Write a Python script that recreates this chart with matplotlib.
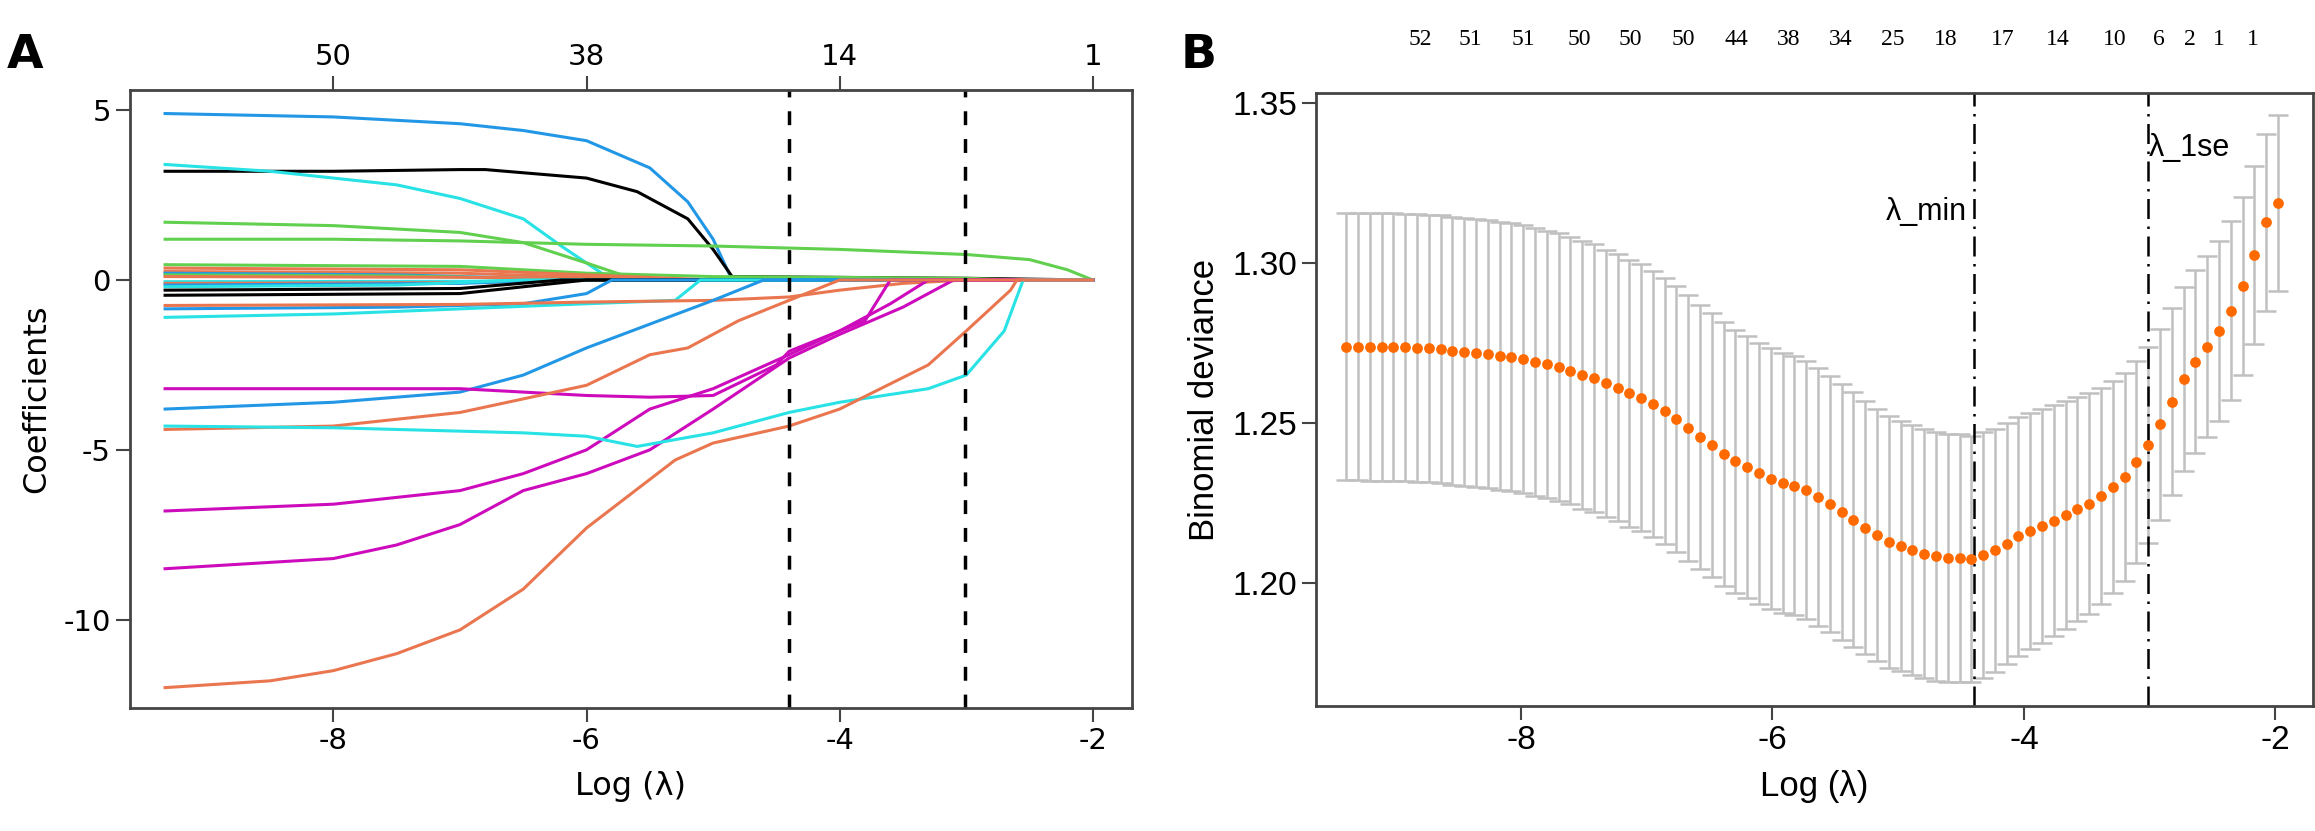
import numpy as np
import matplotlib.pyplot as plt

# colours used by the coefficient paths
BLACK = "#000000"
CORAL = "#EA7650"
GREEN = "#61D04F"
BLUE = "#2297E6"
CYAN = "#28E2E5"
MAGENTA = "#CD0BBC"

LAM_MIN = -4.40
LAM_1SE = -3.01

# ---- panel A: coefficient paths (log lambda knots, coefficient values) ----
paths = [
    (BLUE,    [-9.33, -8.0, -7.0, -6.5, -6.0, -5.5, -5.2, -5.0, -4.85], [4.9, 4.8, 4.6, 4.4, 4.1, 3.3, 2.3, 1.2, 0.0]),
    (BLACK,   [-9.33, -8.0, -7.0, -6.8, -6.0, -5.6, -5.2, -5.0, -4.85, -3.0], [3.2, 3.2, 3.25, 3.25, 3.0, 2.6, 1.8, 0.9, 0.1, 0.05]),
    (CYAN,    [-9.33, -8.5, -7.5, -7.0, -6.5, -6.2, -5.8], [3.4, 3.2, 2.8, 2.4, 1.8, 1.0, 0.0]),
    (GREEN,   [-9.33, -8.0, -7.0, -6.5, -6.0, -5.6], [1.7, 1.6, 1.4, 1.1, 0.5, 0.0]),
    (GREEN,   [-9.33, -8.0, -7.0, -6.0, -5.0, -4.0, -3.0, -2.5, -2.2, -2.0], [1.2, 1.2, 1.15, 1.05, 1.0, 0.9, 0.75, 0.6, 0.3, 0.0]),
    (GREEN,   [-9.33, -7.0, -6.0, -5.0, -3.0, -2.6], [0.45, 0.4, 0.2, 0.1, 0.05, 0.0]),
    (CORAL,   [-9.33, -7.0, -6.0, -5.0], [0.35, 0.3, 0.15, 0.0]),
    (CORAL,   [-9.33, -7.0, -6.0, -5.5], [0.25, 0.2, 0.08, 0.0]),
    (BLUE,    [-9.33, -7.5, -6.5, -6.0], [0.2, 0.15, 0.05, 0.0]),
    (GREEN,   [-9.33, -7.5, -6.5, -5.5], [0.15, 0.12, 0.05, 0.0]),
    (CORAL,   [-9.33, -7.0, -6.0, -5.2], [0.1, 0.08, 0.04, 0.0]),
    (CYAN,    [-9.33, -7.0, -6.0], [-0.05, -0.04, 0.0]),
    (CORAL,   [-9.33, -7.0, -5.8], [-0.1, -0.08, 0.0]),
    (BLUE,    [-9.33, -7.0, -6.2], [-0.15, -0.1, 0.0]),
    (CYAN,    [-9.33, -7.5, -6.5], [-0.2, -0.15, 0.0]),
    (BLACK,   [-9.33, -7.0, -6.2], [-0.3, -0.25, 0.0]),
    (BLACK,   [-9.33, -7.0, -6.5, -6.0], [-0.45, -0.4, -0.2, 0.0]),
    (BLUE,    [-9.33, -7.5, -6.5, -6.0, -5.8], [-0.85, -0.8, -0.7, -0.4, 0.0]),
    (CYAN,    [-9.33, -8.0, -7.0, -6.0, -5.3, -5.1], [-1.1, -1.0, -0.85, -0.7, -0.6, 0.0]),
    (CORAL,   [-9.33, -7.0, -6.0, -5.0, -4.4, -4.0, -3.5, -3.0], [-0.75, -0.72, -0.65, -0.6, -0.5, -0.3, -0.1, 0.0]),
    (BLUE,    [-9.33, -8.0, -7.0, -6.5, -6.0, -5.5, -5.0, -4.6], [-3.8, -3.6, -3.3, -2.8, -2.0, -1.3, -0.6, 0.0]),
    (MAGENTA, [-9.33, -7.0, -6.0, -5.5, -5.0, -4.5, -4.4, -3.8, -3.6], [-3.2, -3.2, -3.4, -3.45, -3.4, -2.5, -2.1, -1.2, 0.0]),
    (MAGENTA, [-9.33, -8.0, -7.0, -6.5, -6.0, -5.5, -5.0, -4.4, -4.0, -3.6, -3.3], [-6.8, -6.6, -6.2, -5.7, -5.0, -3.8, -3.2, -2.2, -1.5, -0.7, 0.0]),
    (MAGENTA, [-9.33, -8.0, -7.5, -7.0, -6.5, -6.0, -5.5, -5.0, -4.4, -4.0, -3.5, -3.1], [-8.5, -8.2, -7.8, -7.2, -6.2, -5.7, -5.0, -3.8, -2.3, -1.6, -0.8, 0.0]),
    (CORAL,   [-9.33, -8.0, -7.5, -7.0, -6.5, -6.0, -5.5, -5.2, -4.8, -4.4, -4.0], [-4.4, -4.3, -4.1, -3.9, -3.5, -3.1, -2.2, -2.0, -1.2, -0.6, 0.0]),
    (CYAN,    [-9.33, -8.0, -7.0, -6.5, -6.0, -5.6, -5.0, -4.4, -4.0, -3.3, -3.0, -2.7, -2.55], [-4.3, -4.35, -4.45, -4.5, -4.6, -4.9, -4.5, -3.9, -3.6, -3.2, -2.8, -1.5, 0.0]),
    (CORAL,   [-9.33, -8.5, -8.0, -7.5, -7.0, -6.5, -6.0, -5.3, -5.0, -4.4, -4.0, -3.3, -3.0, -2.65, -2.6], [-12.0, -11.8, -11.5, -11.0, -10.3, -9.1, -7.3, -5.3, -4.8, -4.3, -3.8, -2.5, -1.5, -0.3, 0.0]),
]
top_a_pos = [-8, -6, -4, -2]
top_a_lab = ["50", "38", "14", "1"]

# ---- panel B: cross-validated binomial deviance ----
cvm = [1.2739, 1.2739, 1.2738, 1.2738, 1.2737, 1.2736, 1.2735, 1.2733, 1.2730, 1.2726,
       1.2723, 1.2720, 1.2716, 1.2710, 1.2705, 1.2699, 1.2692, 1.2683, 1.2674, 1.2664,
       1.2651, 1.2640, 1.2624, 1.2610, 1.2593, 1.2579, 1.2559, 1.2537, 1.2513, 1.2485,
       1.2457, 1.2431, 1.2403, 1.2381, 1.2362, 1.2343, 1.2327, 1.2313, 1.2304, 1.2291,
       1.2270, 1.2247, 1.2223, 1.2199, 1.2174, 1.2150, 1.2129, 1.2117, 1.2103, 1.2093,
       1.2084, 1.2080, 1.2079, 1.2076, 1.2088, 1.2103, 1.2124, 1.2147, 1.2163, 1.2178,
       1.2195, 1.2213, 1.2231, 1.2249, 1.2272, 1.2301, 1.2332, 1.2379, 1.2433, 1.2497,
       1.2567, 1.2638, 1.2692, 1.2739, 1.2788, 1.2851, 1.2929, 1.3024, 1.3127, 1.3186]
cvsd = [0.0418, 0.0418, 0.0418, 0.0418, 0.0418, 0.0418, 0.0418, 0.0418, 0.0418, 0.0418,
        0.0418, 0.0418, 0.0418, 0.0418, 0.0418, 0.0418, 0.0418, 0.0418, 0.0418, 0.0418,
        0.0418, 0.0418, 0.0417, 0.0417, 0.0417, 0.0416, 0.0416, 0.0415, 0.0415, 0.0414,
        0.0413, 0.0412, 0.0411, 0.0410, 0.0409, 0.0408, 0.0407, 0.0406, 0.0404, 0.0403,
        0.0402, 0.0400, 0.0399, 0.0397, 0.0396, 0.0394, 0.0393, 0.0391, 0.0390, 0.0389,
        0.0388, 0.0387, 0.0386, 0.0385, 0.0383, 0.0380, 0.0377, 0.0373, 0.0369, 0.0365,
        0.0360, 0.0355, 0.0350, 0.0344, 0.0338, 0.0331, 0.0324, 0.0316, 0.0306, 0.0298,
        0.0292, 0.0288, 0.0285, 0.0283, 0.0281, 0.0279, 0.0278, 0.0277, 0.0276, 0.0275]
loglam = np.linspace(-9.39, -1.98, len(cvm))  # evenly spaced lambda grid
top_b_pos = [-8.80, -8.40, -7.98, -7.54, -7.13, -6.71, -6.29, -5.87, -5.46, -5.04,
             -4.62, -4.17, -3.73, -3.28, -2.93, -2.68, -2.45, -2.18]
top_b_lab = ["52", "51", "51", "50", "50", "50", "44", "38", "34", "25",
             "18", "17", "14", "10", "6", "2", "1", "1"]

plt.rcParams['font.family'] = ['DejaVu Sans']
plt.rcParams['axes.unicode_minus'] = False
NARROW = ['Liberation Sans Narrow', 'Liberation Sans', 'DejaVu Sans']

fig = plt.figure(figsize=(23.15, 8.31), dpi=100)

# ---------------- panel A ----------------
ax1 = fig.add_axes([0.056, 0.148, 0.433, 0.744])
for col, xs, ys in paths:
    xs = list(xs); ys = list(ys)
    if xs[-1] < -2.0:
        xs.append(-2.0); ys.append(0.0)
    ax1.plot(xs, ys, color=col, lw=2.2)
ax1.axvline(LAM_MIN, color='black', ls=(0, (4, 4)), lw=2.5)
ax1.axvline(LAM_1SE, color='black', ls=(0, (4, 4)), lw=2.5)
ax1.set_xlim(-9.61, -1.69)
ax1.set_ylim(-12.6, 5.6)
ax1.set_xticks([-8, -6, -4, -2])
ax1.set_yticks([5, 0, -5, -10])
ax1.tick_params(labelsize=21, length=10, width=1.5, color='#444444')
ax1.set_xlabel("Log (λ)", fontsize=23, labelpad=12)
ax1.set_ylabel("Coefficients", fontsize=23, labelpad=8)
top = ax1.secondary_xaxis('top')
top.set_xticks(top_a_pos)
top.set_xticklabels(top_a_lab)
top.tick_params(labelsize=21, length=10, width=1.5, color='#444444')
for s in ax1.spines.values():
    s.set_linewidth(2); s.set_color('#444444')
fig.text(0.003, 0.96, "A", fontsize=34, fontweight='bold', va='top')

# ---------------- panel B ----------------
ax2 = fig.add_axes([0.5685, 0.150, 0.4307, 0.738])
ax2.errorbar(loglam, cvm, yerr=cvsd, fmt='none', ecolor='#C0C0C0', elinewidth=1.8,
             capsize=7, capthick=1.8)
ax2.scatter(loglam, cvm, color='#FF6A00', s=45, zorder=3)
ax2.axvline(LAM_MIN, color='black', ls=(0, (8, 3, 1, 3)), lw=1.8)
ax2.axvline(LAM_1SE, color='black', ls=(0, (8, 3, 1, 3)), lw=1.8)
ax2.text(LAM_MIN - 0.05, 1.316, "λ_min", fontsize=22, ha='right', va='center', family=NARROW)
ax2.text(LAM_1SE + 0.0, 1.336, "λ_1se", fontsize=22, ha='left', va='center', family=NARROW)
ax2.set_xlim(-9.63, -1.70)
ax2.set_ylim(1.1616, 1.353)
ax2.set_xticks([-8, -6, -4, -2])
ax2.set_yticks([1.20, 1.25, 1.30, 1.35])
ax2.set_yticklabels(["1.20", "1.25", "1.30", "1.35"])
ax2.tick_params(labelsize=24, length=10, width=1.5, color='#444444')
for lab in ax2.get_xticklabels() + ax2.get_yticklabels():
    lab.set_family(NARROW)
ax2.set_xlabel("Log (λ)", fontsize=25, labelpad=10, family=NARROW)
ax2.set_ylabel("Binomial deviance", fontsize=25, labelpad=8, family=NARROW)
for x, t in zip(top_b_pos, top_b_lab):
    ax2.text(x, 1.087, t, fontsize=17, ha='center', va='center',
             transform=ax2.get_xaxis_transform(),
             family=['Liberation Serif', 'DejaVu Serif'])
for s in ax2.spines.values():
    s.set_linewidth(2); s.set_color('#444444')
fig.text(0.510, 0.96, "B", fontsize=34, fontweight='bold', va='top')

fig.savefig("out.png", dpi=100)
